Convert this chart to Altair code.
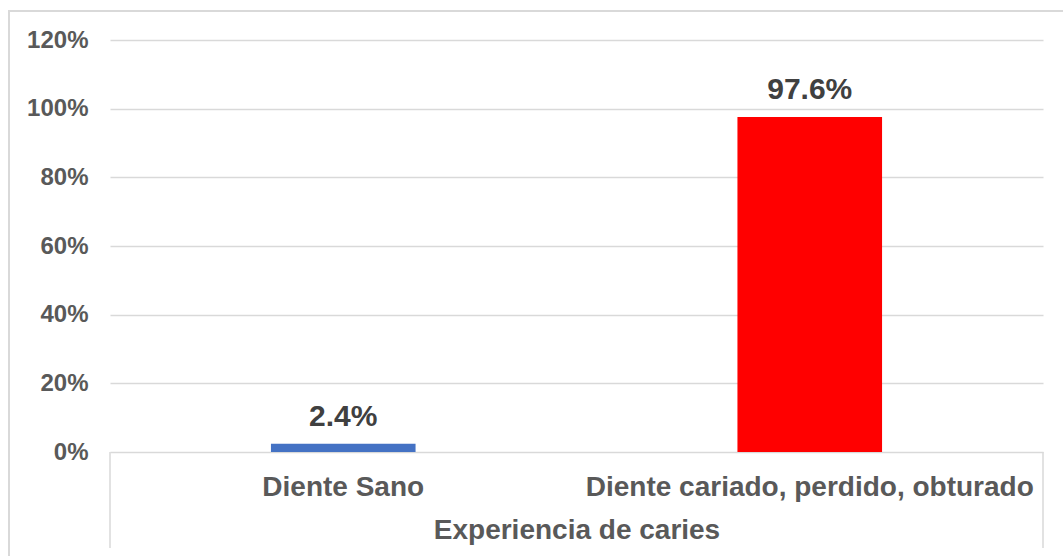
import altair as alt
import pandas as pd

categories = ["Diente Sano", "Diente cariado, perdido, obturado"]
values = [0.024, 0.976]
colors = ["#4472C4", "#FF0000"]
y_ticks = [0, 0.2, 0.4, 0.6, 0.8, 1.0, 1.2]
x_title = "Experiencia de caries"

df = pd.DataFrame({"cat": categories, "val": values, "color": colors})
one = pd.DataFrame({"k": [0]})

W, H = 933, 412
FONT = "Liberation Sans"

x_enc = alt.X(
    "cat:N",
    sort=categories,
    scale=alt.Scale(paddingInner=0, paddingOuter=0),
    axis=alt.Axis(
        title=x_title,
        labelAngle=0,
        labelFont=FONT,
        labelFontSize=28,
        labelFontWeight="bold",
        labelColor="#595959",
        labelBaseline="alphabetic",
        labelPadding=43,
        labelLimit=0,
        labelOverlap=False,
        ticks=False,
        tickSize=0,
        domain=False,
        titleFont=FONT,
        titleFontSize=28,
        titleFontWeight="bold",
        titleColor="#595959",
        titleBaseline="alphabetic",
        titleY=86,
        titleX=W / 2,
    ),
)
y_enc = alt.Y(
    "val:Q",
    scale=alt.Scale(domain=[0, 1.2], nice=False),
    axis=alt.Axis(
        title=None,
        values=y_ticks,
        format=".0%",
        labelFont=FONT,
        labelFontSize=24,
        labelFontWeight="bold",
        labelColor="#595959",
        labelPadding=22,
        ticks=False,
        tickSize=0,
        domain=False,
        grid=True,
        gridColor="#d9d9d9",
        gridWidth=1.5,
    ),
)

bars = alt.Chart(df).mark_bar(width=alt.RelativeBandSize(0.31)).encode(
    x=x_enc,
    y=y_enc,
    color=alt.Color("color:N", scale=None, legend=None),
)

labels = alt.Chart(df).mark_text(
    font=FONT, fontSize=30, fontWeight="bold", color="#404040",
    baseline="alphabetic", dy=-18,
).encode(
    x=alt.X("cat:N", sort=categories),
    y=alt.Y("val:Q"),
    text=alt.Text("val:Q", format=".1%"),
)

frame = alt.Chart(one).mark_rect(filled=False, stroke="#d9d9d9", strokeWidth=2).encode(
    x=alt.value(-101), x2=alt.value(970), y=alt.value(-29), y2=alt.value(540)
)
left_rule = alt.Chart(one).mark_rule(color="#d9d9d9", strokeWidth=1.5).encode(
    x=alt.value(0), y=alt.value(H), y2=alt.value(508)
)
right_rule = alt.Chart(one).mark_rule(color="#d9d9d9", strokeWidth=1.5).encode(
    x=alt.value(W), y=alt.value(H), y2=alt.value(508)
)

chart = alt.layer(frame, bars, labels, left_rule, right_rule).properties(
    width=W,
    height=H,
    autosize=alt.AutoSizeParams(type="none"),
    padding={"left": 110, "top": 40, "right": 20, "bottom": 104},
    background="white",
).configure_view(stroke=None)

chart.save("out.html", embed_options={"renderer": "svg", "actions": False})
